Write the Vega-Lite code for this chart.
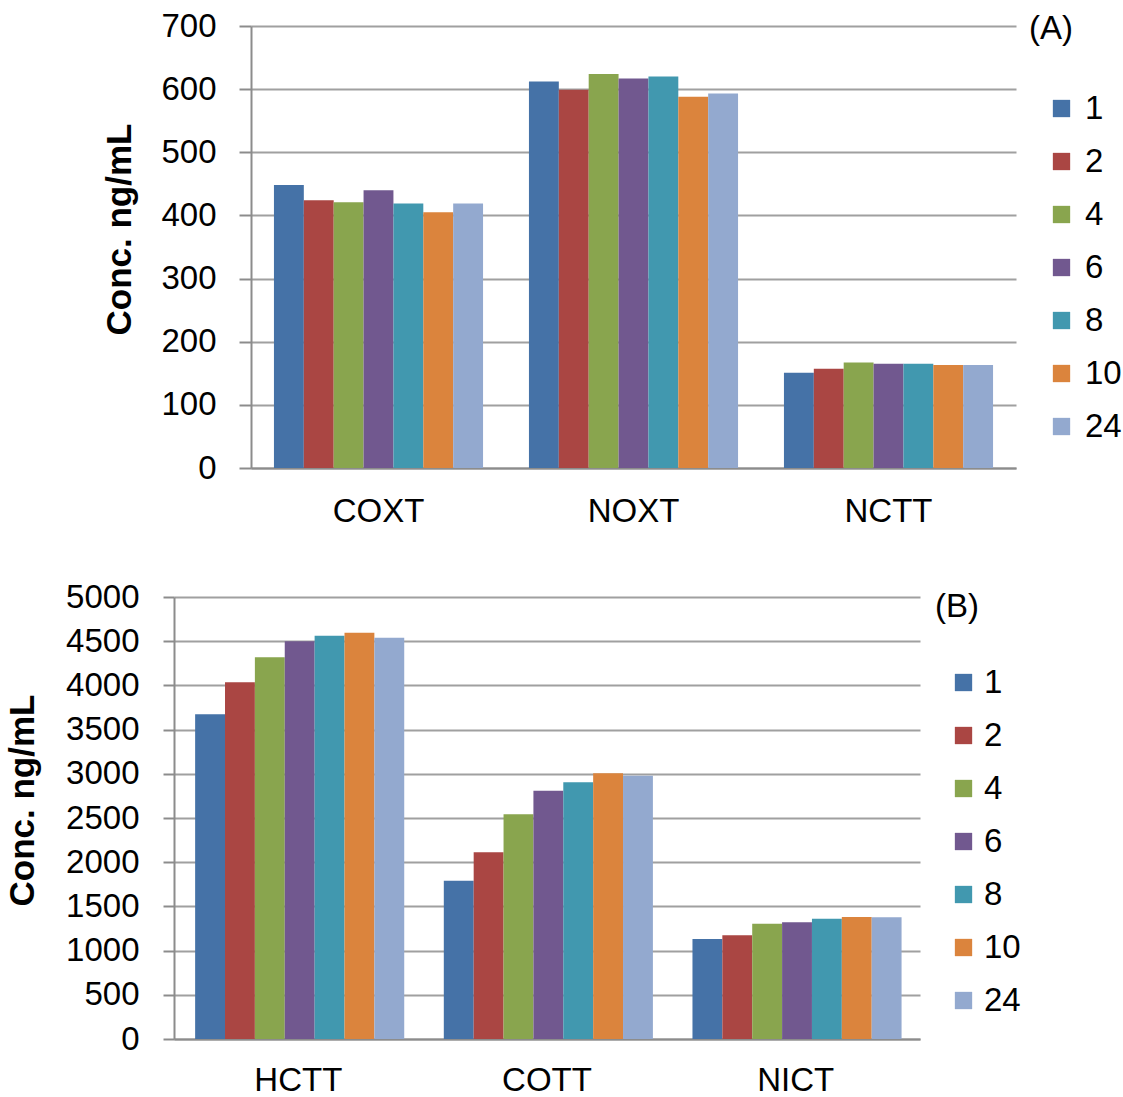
{
  "$schema": "https://vega.github.io/schema/vega-lite/v6.json",
  "background": "white",
  "padding": {"left": 5, "top": 10, "right": 0, "bottom": 0},
  "config": {
    "font": "Liberation Sans",
    "view": {"stroke": null},
    "axis": {
      "labelFont": "Liberation Sans",
      "labelFontSize": 33,
      "labelColor": "#000000",
      "titleFont": "Liberation Sans",
      "titleColor": "#000000",
      "domainColor": "#8C8C8C",
      "domainWidth": 2,
      "tickColor": "#8C8C8C",
      "tickWidth": 2,
      "gridColor": "#A0A0A0",
      "gridWidth": 2
    },
    "legend": {
      "labelFont": "Liberation Sans",
      "labelFontSize": 33,
      "labelColor": "#000000",
      "titleFont": "Liberation Sans",
      "titleFontSize": 33,
      "titleFontWeight": "normal",
      "titleColor": "#000000",
      "symbolType": "square",
      "symbolSize": 300,
      "symbolStrokeWidth": 0,
      "rowPadding": 19
    }
  },
  "datasets": {
    "panelA": [
      {"compound": "COXT", "hour": 1, "conc": 448},
      {"compound": "COXT", "hour": 2, "conc": 424},
      {"compound": "COXT", "hour": 4, "conc": 421},
      {"compound": "COXT", "hour": 6, "conc": 440},
      {"compound": "COXT", "hour": 8, "conc": 419},
      {"compound": "COXT", "hour": 10, "conc": 405},
      {"compound": "COXT", "hour": 24, "conc": 419},
      {"compound": "NOXT", "hour": 1, "conc": 612},
      {"compound": "NOXT", "hour": 2, "conc": 599},
      {"compound": "NOXT", "hour": 4, "conc": 624},
      {"compound": "NOXT", "hour": 6, "conc": 617},
      {"compound": "NOXT", "hour": 8, "conc": 620},
      {"compound": "NOXT", "hour": 10, "conc": 588},
      {"compound": "NOXT", "hour": 24, "conc": 593},
      {"compound": "NCTT", "hour": 1, "conc": 151},
      {"compound": "NCTT", "hour": 2, "conc": 157},
      {"compound": "NCTT", "hour": 4, "conc": 167},
      {"compound": "NCTT", "hour": 6, "conc": 165},
      {"compound": "NCTT", "hour": 8, "conc": 165},
      {"compound": "NCTT", "hour": 10, "conc": 163},
      {"compound": "NCTT", "hour": 24, "conc": 163}
    ],
    "panelB": [
      {"compound": "HCTT", "hour": 1, "conc": 3673},
      {"compound": "HCTT", "hour": 2, "conc": 4035},
      {"compound": "HCTT", "hour": 4, "conc": 4318},
      {"compound": "HCTT", "hour": 6, "conc": 4499},
      {"compound": "HCTT", "hour": 8, "conc": 4562},
      {"compound": "HCTT", "hour": 10, "conc": 4596},
      {"compound": "HCTT", "hour": 24, "conc": 4540},
      {"compound": "COTT", "hour": 1, "conc": 1791},
      {"compound": "COTT", "hour": 2, "conc": 2112},
      {"compound": "COTT", "hour": 4, "conc": 2542},
      {"compound": "COTT", "hour": 6, "conc": 2809},
      {"compound": "COTT", "hour": 8, "conc": 2904},
      {"compound": "COTT", "hour": 10, "conc": 3005},
      {"compound": "COTT", "hour": 24, "conc": 2979},
      {"compound": "NICT", "hour": 1, "conc": 1131},
      {"compound": "NICT", "hour": 2, "conc": 1173},
      {"compound": "NICT", "hour": 4, "conc": 1304},
      {"compound": "NICT", "hour": 6, "conc": 1320},
      {"compound": "NICT", "hour": 8, "conc": 1361},
      {"compound": "NICT", "hour": 10, "conc": 1380},
      {"compound": "NICT", "hour": 24, "conc": 1377}
    ]
  },
  "spacing": 53,
  "vconcat": [
    {
      "spacing": 0,
      "bounds": "flush",
      "hconcat": [
        {
          "width": 77,
          "height": 442,
          "data": {"values": []},
          "mark": {"type": "point"},
          "encoding": {}
        },
        {
          "data": {"name": "panelA"},
          "width": 765,
          "height": 442,
          "mark": {"type": "bar"},
          "encoding": {
            "x": {
              "field": "compound",
              "type": "nominal",
              "sort": ["COXT", "NOXT", "NCTT"],
              "scale": {"paddingInner": 0.18, "paddingOuter": 0.09},
              "axis": {"title": null, "labelAngle": 0, "ticks": false, "labelPadding": 27, "grid": false}
            },
            "xOffset": {
              "field": "hour",
              "type": "ordinal",
              "scale": {"paddingInner": 0, "paddingOuter": 0}
            },
            "y": {
              "field": "conc",
              "type": "quantitative",
              "scale": {"domain": [0, 700], "nice": false},
              "axis": {
                "values": [0, 100, 200, 300, 400, 500, 600, 700],
                "format": "d",
                "title": "Conc. ng/mL",
                "titleFontSize": 35,
                "titleFontWeight": "bold",
                "titlePadding": 23,
                "titleY": 203,
                "tickSize": 12,
                "labelPadding": 23
              }
            },
            "color": {
              "field": "hour",
              "type": "ordinal",
              "scale": {
                "domain": [1, 2, 4, 6, 8, 10, 24],
                "range": ["#4572A7", "#AA4643", "#89A54E", "#71588F", "#4198AF", "#DB843D", "#93A9CF"]
              },
              "legend": {
                "title": "(A)",
                "orient": "none",
                "legendX": 855,
                "legendY": -13,
                "titlePadding": 46,
                "symbolOffset": 16,
                "labelOffset": 7
              }
            }
          }
        }
      ]
    },
    {
      "data": {"name": "panelB"},
      "width": 746,
      "height": 442,
      "mark": {"type": "bar"},
      "encoding": {
        "x": {
          "field": "compound",
          "type": "nominal",
          "sort": ["HCTT", "COTT", "NICT"],
          "scale": {"paddingInner": 0.17, "paddingOuter": 0.085},
          "axis": {"title": null, "labelAngle": 0, "ticks": false, "labelPadding": 25, "grid": false}
        },
        "xOffset": {
          "field": "hour",
          "type": "ordinal",
          "scale": {"paddingInner": 0, "paddingOuter": 0}
        },
        "y": {
          "field": "conc",
          "type": "quantitative",
          "scale": {"domain": [0, 5000], "nice": false},
          "axis": {
            "values": [0, 500, 1000, 1500, 2000, 2500, 3000, 3500, 4000, 4500, 5000],
            "format": "d",
            "title": "Conc. ng/mL",
            "titleFontSize": 35,
            "titleFontWeight": "bold",
            "titlePadding": 25,
            "titleY": 203,
            "tickSize": 11,
            "labelPadding": 24
          }
        },
        "color": {
          "field": "hour",
          "type": "ordinal",
          "scale": {
            "domain": [1, 2, 4, 6, 8, 10, 24],
            "range": ["#4572A7", "#AA4643", "#89A54E", "#71588F", "#4198AF", "#DB843D", "#93A9CF"]
          },
          "legend": {
            "title": "(B)",
            "orient": "none",
            "legendX": 761,
            "legendY": -6,
            "titlePadding": 42,
            "symbolOffset": 12,
            "labelOffset": 4
          }
        }
      }
    }
  ],
  "resolve": {"scale": {"color": "independent"}, "legend": {"color": "independent"}}
}
